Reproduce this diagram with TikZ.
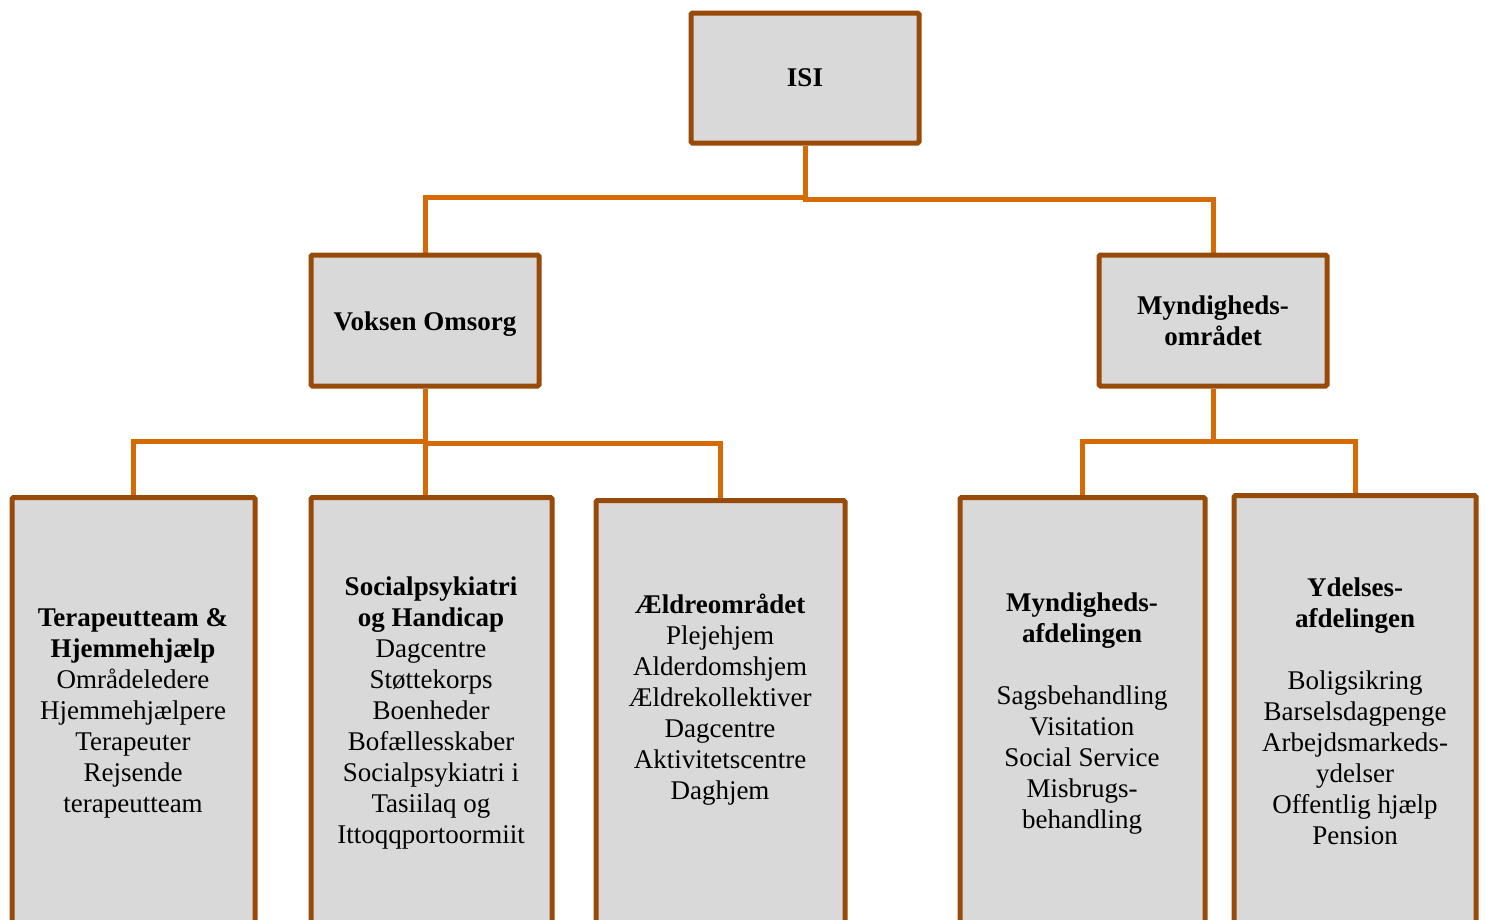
\documentclass[tikz,border=0pt]{standalone}
\usepackage{fontspec}
\setmainfont{Liberation Serif}
\usetikzlibrary{backgrounds}
\definecolor{boxbrown}{RGB}{152,74,8}
\definecolor{connor}{RGB}{214,106,4}
\definecolor{boxfill}{RGB}{217,217,217}
\begin{document}
\begin{tikzpicture}[x=1pt,y=-1pt,
  box/.style={draw=boxbrown, fill=boxfill, line width=5pt, rounded corners=1.5pt, inner sep=0pt, align=center, font=\fontsize{27}{31}\selectfont\bfseries},
  tallbox/.style={box, anchor=north, minimum height=470pt},
  lbl/.style={align=center, font=\fontsize{27}{31}\selectfont, inner sep=0pt},
  conn/.style={draw=connor, line width=5pt}]
\useasboundingbox (0,0) rectangle (1486,919);
\clip (0,0) rectangle (1486,919);

% top levels
\node[box, minimum width=228pt, minimum height=130pt] (isi) at (805,78) {ISI};
\node[box, minimum width=228pt, minimum height=131pt] (vok) at (425,320.5) {\raisebox{-4pt}[\height][\depth]{Voksen Omsorg}};
\node[box, minimum width=228pt, minimum height=131pt] (myn) at (1213,320.5) {Myndigheds-\\området};

% bottom boxes
\node[tallbox, minimum width=243pt] (tera) at (133.5,495) {};
\node[tallbox, minimum width=241pt] (soc) at (431.5,495) {};
\node[tallbox, minimum width=249pt] (aeld) at (720.5,498) {};
\node[tallbox, minimum width=245pt] (mafd) at (1082.5,495) {};
\node[tallbox, minimum width=242pt] (yd) at (1355,493) {};

% texts
\node[lbl] (teratxt) at (133,713) {\textbf{Terapeutteam \&}\\\textbf{Hjemmehjælp}\\Områdeledere\\Hjemmehjælpere\\Terapeuter\\Rejsende\\terapeutteam};
\node[lbl] (soctxt) at (431,713) {\textbf{Socialpsykiatri}\\\textbf{og Handicap}\\Dagcentre\\Støttekorps\\Boenheder\\Bofællesskaber\\Socialpsykiatri i\\Tasiilaq og\\Ittoqqportoormiit};
\node[lbl] (aeldtxt) at (720,699.5) {\textbf{Ældreområdet}\\Plejehjem\\Alderdomshjem\\Ældrekollektiver\\Dagcentre\\Aktivitetscentre\\Daghjem};
\node[lbl] (mafdtxt) at (1082,713.5) {\textbf{Myndigheds-}\\\textbf{afdelingen}\\[31pt]Sagsbehandling\\Visitation\\Social Service\\Misbrugs-\\behandling};
\node[lbl] (ydtxt) at (1355,711) {\textbf{Ydelses-}\\\textbf{afdelingen}\\[31pt]Boligsikring\\Barselsdagpenge\\Arbejdsmarkeds-\\ydelser\\Offentlig hjælp\\Pension};

% connectors
\begin{scope}[on background layer]
  \coordinate (j1) at (805,197);
  \coordinate (j1b) at (805,199);
  \draw[conn] (isi.south) -- (j1) -| (vok.north);
  \draw[conn] (j1) -- (j1b) -| (myn.north);
  \coordinate (j2) at (425,441);
  \coordinate (j2b) at (425,443);
  \draw[conn] (vok.south) -- (vok.south |- soc.north);
  \draw[conn] (j2) -| (tera.north);
  \draw[conn] (j2b) -| (aeld.north);
  \coordinate (j3) at (1213,441);
  \draw[conn] (myn.south) -- (j3) -| (mafd.north);
  \draw[conn] (j3) -| (yd.north);
\end{scope}
\end{tikzpicture}
\end{document}
